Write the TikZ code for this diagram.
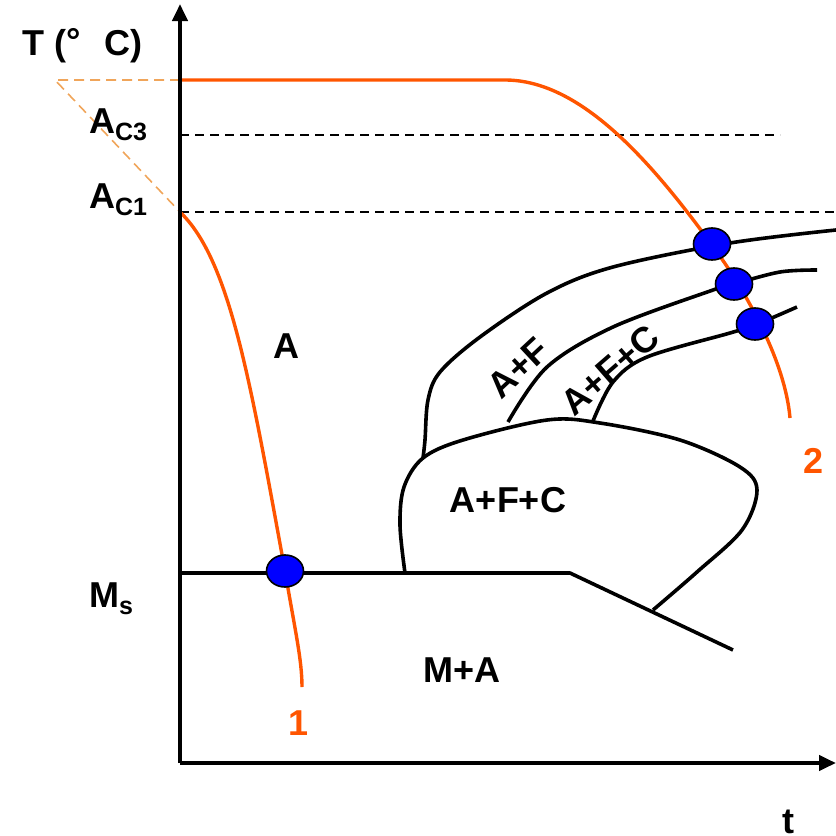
\documentclass[tikz,border=0pt]{standalone}
\usepackage{fontspec}
\setmainfont{Liberation Sans}
\usetikzlibrary{arrows.meta,shapes.geometric}
\definecolor{curveorange}{RGB}{255,85,0}
\definecolor{dashorange}{RGB}{240,165,90}
\definecolor{dotblue}{RGB}{0,0,255}
\tikzset{
  axisline/.style={line width=4pt,-{Triangle[length=17pt,width=15pt]}},
  phaseline/.style={line width=3.6pt, line join=round},
  coolcurve/.style={line width=3.4pt, draw=curveorange},
  helperdash/.style={line width=1.6pt, draw=dashorange, dash pattern=on 10pt off 6pt},
  tempdash/.style={line width=2pt, dash pattern=on 9pt off 6pt},
  dot/.style={ellipse, minimum width=37pt, minimum height=32pt, inner sep=0pt, fill=dotblue, draw=black, line width=1.6pt},
  lbl/.style={font=\fontsize{36}{40}\selectfont\bfseries, inner sep=0pt},
  olbl/.style={lbl, text=curveorange},
}
\begin{document}
\begin{tikzpicture}[x=1pt,y=-1pt]
\useasboundingbox (0,0) rectangle (836,836);
% helper coordinates
\coordinate (O) at (180,763);
\coordinate (ytop) at (180,4);
\coordinate (xend) at (836,763);
\coordinate (h3) at (180,80);
\coordinate (hc) at (55,80);
\coordinate (c1) at (180,212);
% dashed orange construction
\draw[helperdash] (h3) -- (hc) -- (c1);
% temperature dashed lines
\coordinate (ac3a) at (180,135); \coordinate (ac3b) at (780,135);
\coordinate (ac1a) at (180,212); \coordinate (ac1b) at (836,212);
\draw[tempdash] (ac3a) -- (ac3b);
\draw[tempdash] (ac1a) -- (ac1b);
% phase boundaries
\draw[phaseline] plot[smooth, tension=0.55] coordinates {(836,230) (730,243) (613,267) (547,293) (480,337) (440,372) (428,400) (425,440) (423,458)};
\draw[phaseline] plot[smooth, tension=0.55] coordinates {(817,270) (780,272) (734,284) (713,290) (613,327) (547,367) (508,422)};
\draw[phaseline] plot[smooth, tension=0.55] coordinates {(797,307) (755,325) (730,333) (647,357) (613,382) (593,421)};
\draw[phaseline] plot[smooth, tension=0.55] coordinates {(405,573) (400,525) (404,487) (423,458) (463,440) (547,420) (600,423) (680,440) (740,467) (757,490) (742,530) (697,572) (653,610)};
\coordinate (ms0) at (180,573); \coordinate (ms1) at (570,573); \coordinate (ms2) at (733,650);
\draw[phaseline] (ms0) -- (ms1) -- (ms2);
% cooling curves
\draw[coolcurve] (h3) -- (505,80) .. controls (580,80) and (650,160) .. (712,245) .. controls (745,290) and (785,360) .. (790,418);
\draw[coolcurve] (c1) .. controls (230,260) and (250,380) .. (285,571) .. controls (295,630) and (302,660) .. (302,687);
% axes
\draw[axisline] (O) -- (ytop);
\draw[axisline] (O) -- (xend);
% dots
\node[dot] (d0) at (285,571) {};
\node[dot] (d1) at (712,244) {};
\node[dot] (d2) at (734,284) {};
\node[dot] (d3) at (755,324) {};
% labels
\node[lbl, anchor=base west] (tl) at (22,55) {T (\raisebox{0.05em}{°}\hspace{24pt}C)};
\node[lbl, anchor=base west] (ac3) at (89,133) {A\raisebox{-0.2em}{\fontsize{25}{28}\selectfont C3}};
\node[lbl, anchor=base west] (ac1) at (89,208) {A\raisebox{-0.2em}{\fontsize{25}{28}\selectfont C1}};
\node[lbl, anchor=base west] (ms) at (89,607) {M\raisebox{-0.22em}{\fontsize{25}{28}\selectfont s}};
\node[lbl, anchor=base] (la) at (286,358) {A};
\node[lbl, anchor=base] (lafc) at (508,512) {A+F+C};
\node[lbl, anchor=base] (lma) at (462,682) {M+A};
\node[lbl, rotate=43] (laf) at (518,368) {A+F};
\node[lbl, rotate=41] (lafc2) at (610,370) {A+F+C};
\node[olbl, anchor=base] (n1) at (299,735) {1};
\node[olbl, anchor=base] (n2) at (814,473) {2};
\node[lbl, anchor=base] (lt) at (788,833) {t};
\end{tikzpicture}
\end{document}
